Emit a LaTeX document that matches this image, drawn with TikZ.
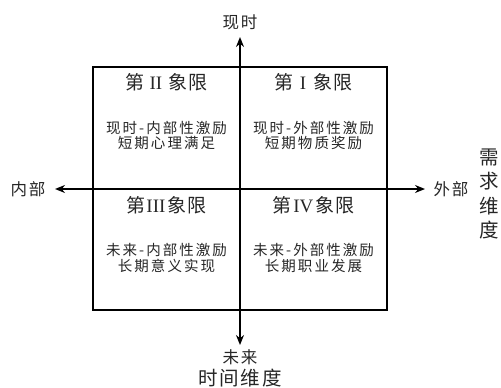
\documentclass[tikz,border=0pt]{standalone}
\usepackage{fontspec}
\setmainfont{Liberation Serif}
\newfontfamily\cjk[LetterSpace=10]{Noto Sans CJK SC}
\newfontfamily\cjktitle[LetterSpace=6]{Noto Sans CJK SC}
\newfontfamily\cjkbody[LetterSpace=14]{Noto Sans CJK SC}
\usetikzlibrary{arrows.meta}
\begin{document}
\begin{tikzpicture}[x=1pt,y=-1pt,
  txt/.style={text=black!85, inner sep=0pt, align=center},
  quadtitle/.style={txt, font=\fontsize{19}{22}\selectfont},
  quadbody/.style={txt, font=\cjkbody\fontsize{14.5}{15.5}\selectfont},
  axislabel/.style={txt, font=\cjk\fontsize{16.5}{18}\selectfont},
  dimlabel/.style={txt, font=\cjk\fontsize{19.5}{24.5}\selectfont},
  boxline/.style={line width=1.3pt},
  axisline/.style={line width=1.6pt, {Stealth[length=10pt,width=8pt]}-{Stealth[length=10pt,width=8pt]}},
  axisone/.style={line width=1.6pt, -{Stealth[length=10pt,width=8pt]}}]
\useasboundingbox (0,0) rectangle (501,388);
% frame
\draw[boxline] (93,67) rectangle (387,310);
% axis end points
\coordinate (left) at (55,189);
\coordinate (right) at (425,189);
\coordinate (top) at (240,37);
\coordinate (bottom) at (240,345);
\coordinate (center) at (240,189);
\draw[axisline] (left) -- (right);
\draw[axisone] (center) -- (top);
\draw[axisone] (center) -- (bottom);
% axis labels
\node[axislabel] (now) at (240,22) {现时};
\node[axislabel] (future) at (240,357) {未来};
\node[dimlabel] (timedim) at (240,378) {时间维度};
\node[axislabel] (inner) at (28,189) {内部};
\node[axislabel] (outer) at (451,189) {外部};
\node[dimlabel] (needdim) at (489,194) {需\\求\\维\\度};
% quadrant titles
\node[quadtitle] (q2t) at (166.5,82) {{\cjktitle 第}\hspace{5pt}II\hspace{6pt}{\cjktitle 象限}};
\node[quadtitle] (q1t) at (313.5,82) {{\cjktitle 第}\hspace{6pt}I\hspace{7pt}{\cjktitle 象限}};
\node[quadtitle] (q3t) at (166.5,205) {{\cjktitle 第}\hspace{1pt}III\hspace{2pt}{\cjktitle 象限}};
\node[quadtitle] (q4t) at (313.5,205) {{\cjktitle 第}\hspace{2pt}IV\hspace{2pt}{\cjktitle 象限}};
% quadrant bodies
\node[quadbody] (q2b) at (166.5,135.5) {现时-内部性激励\\短期心理满足};
\node[quadbody] (q1b) at (313.5,135.5) {现时-外部性激励\\短期物质奖励};
\node[quadbody] (q3b) at (166.5,258) {未来-内部性激励\\长期意义实现};
\node[quadbody] (q4b) at (313.5,258) {未来-外部性激励\\长期职业发展};
\end{tikzpicture}
\end{document}
